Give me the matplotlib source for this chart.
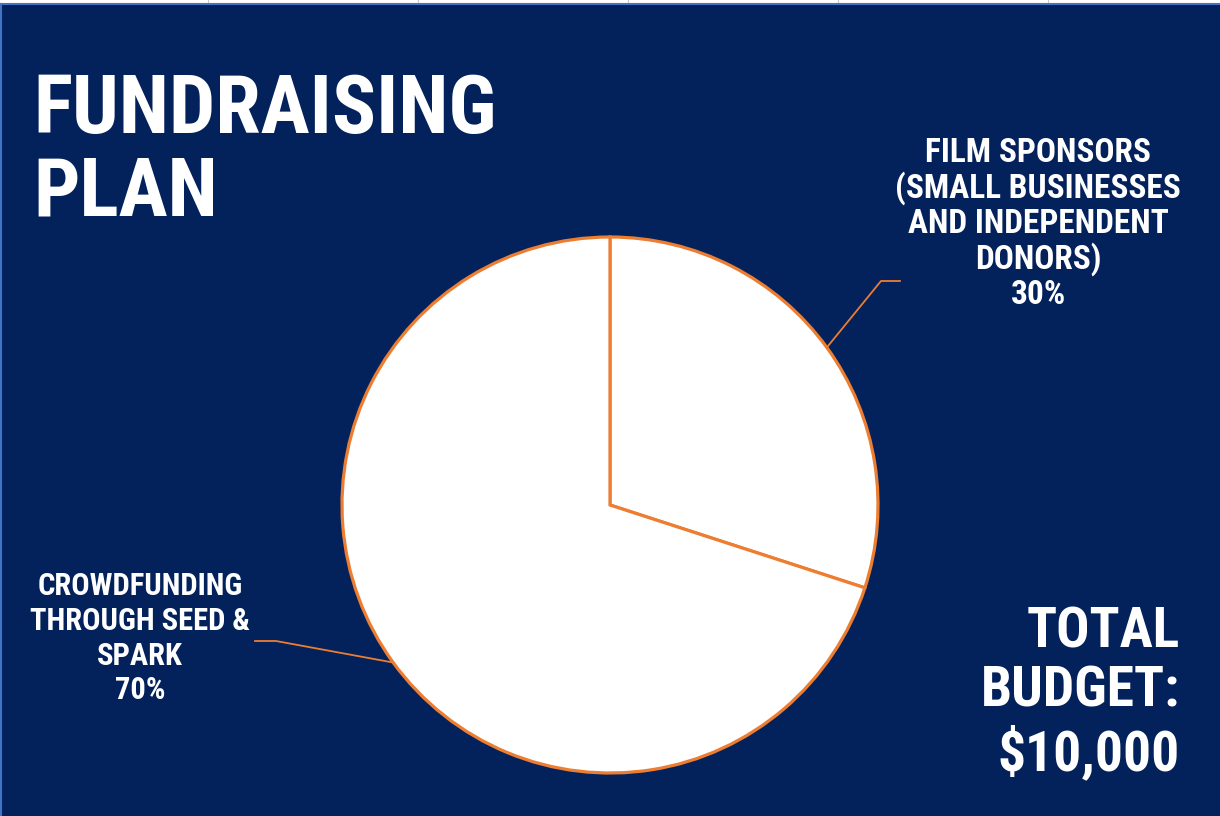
import numpy as np
import matplotlib
matplotlib.use("Agg")
import matplotlib.pyplot as plt
from matplotlib import font_manager
from matplotlib.patches import Rectangle

# ---- data ----
categories = ["FILM SPONSORS\n(SMALL BUSINESSES\nAND INDEPENDENT\nDONORS)",
              "CROWDFUNDING\nTHROUGH SEED &\nSPARK"]
values = [30, 70]
title = "FUNDRAISING\nPLAN"
budget_text = "TOTAL\nBUDGET:\n$10,000"

names = {f.name for f in font_manager.fontManager.ttflist}
FAM, STRETCH = "DejaVu Sans", "condensed"
for cand in ["Roboto Condensed", "Open Sans Condensed", "Liberation Sans Narrow"]:
    if cand in names:
        FAM, STRETCH = cand, "normal"
        break

NAVY = "#03225C"
ORANGE = "#ED7D31"
W, H = 1220, 816

fig = plt.figure(figsize=(W / 100, H / 100), dpi=100)
ax = fig.add_axes([0, 0, 1, 1])
ax.set_xlim(0, W)
ax.set_ylim(0, H)
ax.set_aspect("equal")
ax.axis("off")

# spreadsheet strip on top
fig.patch.set_facecolor("white")
ax.add_patch(Rectangle((0, 0), W, H - 5, facecolor=NAVY, edgecolor="none", zorder=0))
for gx in [208, 418, 628, 838, 1048]:
    ax.plot([gx, gx], [H - 3, H], color="#C8C8C8", lw=0.8, zorder=0)
ax.plot([0, W], [H - 4, H - 4], color="#4472C4", lw=1.5, zorder=1)
ax.plot([1, 1], [0, H - 4], color="#4472C4", lw=1.5, zorder=1)

# pie
cx, cy, r = 610, H - 505, 268
wedges, _ = ax.pie(values, center=(cx, cy), radius=r, startangle=90, counterclock=False,
                   colors=["white", "white"],
                   wedgeprops=dict(edgecolor=ORANGE, linewidth=2.3))
ax.set_xlim(0, W)
ax.set_ylim(0, H)

tkw = dict(color="white", family=FAM, fontstretch=STRETCH, fontweight="bold")

# title
ax.text(33, H - 72, title, ha="left", va="top", fontsize=59, linespacing=1.08, **tkw)

# labels with leader lines
label_pos = [(1038, H - 137), (140, H - 571)]
label_size = [24, 22]
label_ls = [1.1, 1.2]
elbows = [((900, H - 281), (881, H - 281)), ((255, H - 641), (276, H - 641))]
total = sum(values)
for i, w in enumerate(wedges):
    ang = np.deg2rad((w.theta1 + w.theta2) / 2)
    ex, ey = cx + r * np.cos(ang), cy + r * np.sin(ang)
    (x0, y0), (x1, y1) = elbows[i]
    ax.plot([x0, x1, ex], [y0, y1, ey], color=ORANGE, lw=1.3, zorder=3)
    pct = f"{round(values[i] / total * 100)}%"
    ax.text(label_pos[i][0], label_pos[i][1], categories[i] + "\n" + pct,
            ha="center", va="top", fontsize=label_size[i], linespacing=label_ls[i], **tkw)

# total budget
ax.text(1180, H - 606, budget_text, ha="right", va="top", fontsize=40,
        linespacing=1.18, **tkw)

fig.savefig("out.png", dpi=100, facecolor=fig.get_facecolor())
